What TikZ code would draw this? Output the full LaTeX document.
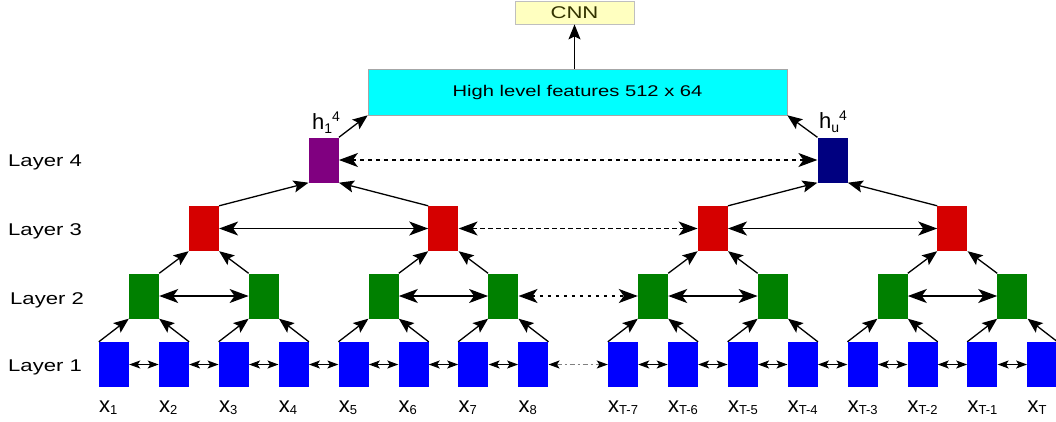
\documentclass[tikz,border=0pt]{standalone}
\usepackage{fontspec}
\setmainfont{Liberation Sans}
\newfontfamily\widesans{Liberation Sans}[FakeStretch=1.3]
\usetikzlibrary{arrows.meta}
\definecolor{boxblue}{RGB}{0,0,255}
\definecolor{boxgreen}{RGB}{0,128,0}
\definecolor{boxred}{RGB}{213,0,0}
\definecolor{boxpurple}{RGB}{128,0,128}
\definecolor{boxnavy}{RGB}{0,0,128}
\definecolor{featfill}{RGB}{0,255,255}
\definecolor{cnnfill}{RGB}{255,255,192}
\definecolor{cnntext}{RGB}{51,51,0}
\newcommand{\xsub}[1]{x\raisebox{-2pt}{\fontsize{13}{13}\selectfont #1}}
\newcommand{\hsub}[2]{h\raisebox{-4pt}{\fontsize{14}{14}\selectfont #1}\raisebox{8pt}{\fontsize{14}{14}\selectfont #2}}
\tikzset{
  unit/.style={rectangle, inner sep=0pt, minimum width=30pt, minimum height=45pt},
  up/.style={-{Stealth[length=15pt,width=12pt,inset=3pt]}, line width=1.3pt},
  lnk/.style={{Stealth[length=19pt,width=14pt,inset=5pt,color=black]}-{Stealth[length=19pt,width=14pt,inset=5pt,color=black]}, line width=1.3pt},
  lnksmall/.style={{Stealth[length=11pt,width=8pt,inset=2.5pt,color=black]}-{Stealth[length=11pt,width=8pt,inset=2.5pt,color=black]}, line width=1.2pt},
  xlab/.style={anchor=base west, inner sep=0pt, font=\fontsize{22}{22}\selectfont},
  layerlab/.style={anchor=base west, inner sep=0pt, font=\widesans\fontsize{17}{17}\selectfont},
}

\begin{document}
\begin{tikzpicture}[x=1pt,y=-1pt]
  \useasboundingbox (0,0) rectangle (1056,421);

  % top boxes
  \node[rectangle, inner sep=0pt, minimum width=119pt, minimum height=23pt, fill=cnnfill, draw=gray!50, line width=0.8pt,
        text=cnntext, font=\widesans\fontsize{17}{17}\selectfont] (cnn) at (574.5,12.5) {CNN};
  \node[rectangle, inner sep=0pt, minimum width=419pt, minimum height=46pt, fill=featfill, draw=gray!70, line width=0.6pt,
        font=\widesans\fontsize{15.5}{15.5}\selectfont] (feat) at (577.5,92) {High level features 512 x 64};

  % layer 4
  \node[unit, fill=boxpurple] (h1) at (323.7,160) {};
  \node[unit, fill=boxnavy] (hu) at (832.6,160) {};
  \node[anchor=base west, inner sep=0pt, font=\fontsize{22}{22}\selectfont] (h1lab) at (312,129) {\hsub{1}{4}};
  \node[anchor=base west, inner sep=0pt, font=\fontsize{22}{22}\selectfont] (hulab) at (819,128) {\hsub{u}{4}};

  % layer 3
  \node[unit, fill=boxred] (r1) at (203.9,228.5) {};
  \node[unit, fill=boxred] (r2) at (443.4,228.5) {};
  \node[unit, fill=boxred] (r3) at (712.8,228.5) {};
  \node[unit, fill=boxred] (r4) at (952.4,228.5) {};

  % layer 2
  \node[unit, fill=boxgreen] (g1) at (144,296) {};
  \node[unit, fill=boxgreen] (g2) at (263.8,296) {};
  \node[unit, fill=boxgreen] (g3) at (383.6,296) {};
  \node[unit, fill=boxgreen] (g4) at (503.3,296) {};
  \node[unit, fill=boxgreen] (g5) at (653,296) {};
  \node[unit, fill=boxgreen] (g6) at (772.8,296) {};
  \node[unit, fill=boxgreen] (g7) at (892.6,296) {};
  \node[unit, fill=boxgreen] (g8) at (1012.4,296) {};

  % layer 1
  \node[unit, fill=boxblue] (b1) at (114,364.5) {};
  \node[unit, fill=boxblue] (b2) at (173.9,364.5) {};
  \node[unit, fill=boxblue] (b3) at (233.8,364.5) {};
  \node[unit, fill=boxblue] (b4) at (293.7,364.5) {};
  \node[unit, fill=boxblue] (b5) at (353.6,364.5) {};
  \node[unit, fill=boxblue] (b6) at (413.5,364.5) {};
  \node[unit, fill=boxblue] (b7) at (473.4,364.5) {};
  \node[unit, fill=boxblue] (b8) at (533.3,364.5) {};
  \node[unit, fill=boxblue] (b9) at (623,364.5) {};
  \node[unit, fill=boxblue] (b10) at (682.9,364.5) {};
  \node[unit, fill=boxblue] (b11) at (742.8,364.5) {};
  \node[unit, fill=boxblue] (b12) at (802.7,364.5) {};
  \node[unit, fill=boxblue] (b13) at (862.6,364.5) {};
  \node[unit, fill=boxblue] (b14) at (922.5,364.5) {};
  \node[unit, fill=boxblue] (b15) at (982.4,364.5) {};
  \node[unit, fill=boxblue] (b16) at (1042.3,364.5) {};

  % inputs
  \node[xlab] (x1) at (99,412) {\xsub{1}};
  \node[xlab] (x2) at (158.9,412) {\xsub{2}};
  \node[xlab] (x3) at (218.8,412) {\xsub{3}};
  \node[xlab] (x4) at (278.7,412) {\xsub{4}};
  \node[xlab] (x5) at (338.6,412) {\xsub{5}};
  \node[xlab] (x6) at (398.5,412) {\xsub{6}};
  \node[xlab] (x7) at (458.4,412) {\xsub{7}};
  \node[xlab] (x8) at (518.3,412) {\xsub{8}};
  \node[xlab] (xt7) at (608,412) {\xsub{T-7}};
  \node[xlab] (xt6) at (667.9,412) {\xsub{T-6}};
  \node[xlab] (xt5) at (727.8,412) {\xsub{T-5}};
  \node[xlab] (xt4) at (787.7,412) {\xsub{T-4}};
  \node[xlab] (xt3) at (847.6,412) {\xsub{T-3}};
  \node[xlab] (xt2) at (907.5,412) {\xsub{T-2}};
  \node[xlab] (xt1) at (967.4,412) {\xsub{T-1}};
  \node[xlab] (xt0) at (1027.3,412) {\xsub{T}};

  % row names
  \node[layerlab] (lay4) at (8,166) {Layer 4};
  \node[layerlab] (lay3) at (8,235) {Layer 3};
  \node[layerlab] (lay2) at (10,304) {Layer 2};
  \node[layerlab] (lay1) at (8,371) {Layer 1};

  % upward links
  \draw[up] (b1.north west) -- (g1.south west);
  \draw[up] (b2.north east) -- (g1.south east);
  \draw[up] (b3.north west) -- (g2.south west);
  \draw[up] (b4.north east) -- (g2.south east);
  \draw[up] (b5.north west) -- (g3.south west);
  \draw[up] (b6.north east) -- (g3.south east);
  \draw[up] (b7.north west) -- (g4.south west);
  \draw[up] (b8.north east) -- (g4.south east);
  \draw[up] (b9.north west) -- (g5.south west);
  \draw[up] (b10.north east) -- (g5.south east);
  \draw[up] (b11.north west) -- (g6.south west);
  \draw[up] (b12.north east) -- (g6.south east);
  \draw[up] (b13.north west) -- (g7.south west);
  \draw[up] (b14.north east) -- (g7.south east);
  \draw[up] (b15.north west) -- (g8.south west);
  \draw[up] (b16.north east) -- (g8.south east);

  \draw[up] (g1.north east) -- (r1.south west);
  \draw[up] (g2.north west) -- (r1.south east);
  \draw[up] (g3.north east) -- (r2.south west);
  \draw[up] (g4.north west) -- (r2.south east);
  \draw[up] (g5.north east) -- (r3.south west);
  \draw[up] (g6.north west) -- (r3.south east);
  \draw[up] (g7.north east) -- (r4.south west);
  \draw[up] (g8.north west) -- (r4.south east);

  \draw[up] (r1.north east) -- (h1.south west);
  \draw[up] (r2.north west) -- (h1.south east);
  \draw[up] (r3.north east) -- (hu.south west);
  \draw[up] (r4.north west) -- (hu.south east);

  \draw[up] (h1.north east) -- (feat.south west);
  \draw[up] (hu.north west) -- (feat.south east);
  \draw[up] (cnn.south |- feat.north) -- (cnn.south);

  % side links
  \draw[lnksmall] (b1) -- (b2);
  \draw[lnksmall] (b2) -- (b3);
  \draw[lnksmall] (b3) -- (b4);
  \draw[lnksmall] (b4) -- (b5);
  \draw[lnksmall] (b5) -- (b6);
  \draw[lnksmall] (b6) -- (b7);
  \draw[lnksmall] (b7) -- (b8);
  \draw[lnksmall, draw=gray, dash pattern=on 5pt off 3pt on 2pt off 3pt] (b8) -- (b9);
  \draw[lnksmall] (b9) -- (b10);
  \draw[lnksmall] (b10) -- (b11);
  \draw[lnksmall] (b11) -- (b12);
  \draw[lnksmall] (b12) -- (b13);
  \draw[lnksmall] (b13) -- (b14);
  \draw[lnksmall] (b14) -- (b15);
  \draw[lnksmall] (b15) -- (b16);

  \draw[lnk] (g1) -- (g2);
  \draw[lnk] (g3) -- (g4);
  \draw[lnk, line width=1.6pt, dash pattern=on 3pt off 5pt] (g4) -- (g5);
  \draw[lnk] (g5) -- (g6);
  \draw[lnk] (g7) -- (g8);

  \draw[lnk] (r1) -- (r2);
  \draw[lnk, dash pattern=on 5pt off 3pt] (r2) -- (r3);
  \draw[lnk] (r3) -- (r4);

  \draw[lnk, dash pattern=on 4pt off 4pt] (h1) -- (hu);
\end{tikzpicture}
\end{document}
